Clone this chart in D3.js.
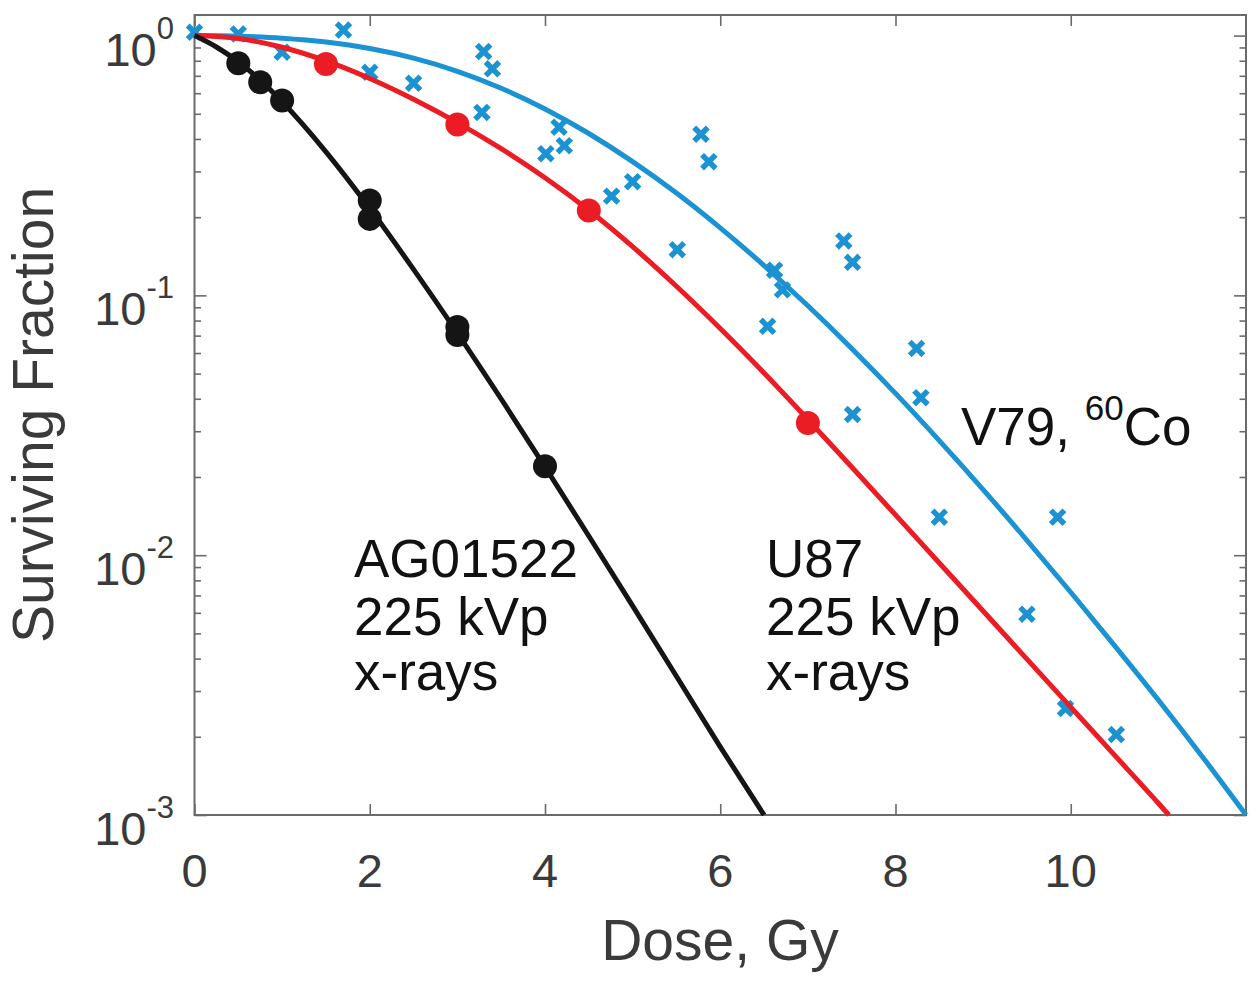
<!DOCTYPE html>
<html>
<head>
<meta charset="utf-8">
<script src="https://cdn.jsdelivr.net/npm/d3@7"></script>
<style>
  html, body { margin: 0; padding: 0; background: #fff; }
  svg { display: block; }
  text { font-family: "Liberation Sans", Arial, Helvetica, sans-serif; }
</style>
</head>
<body>
<svg id="chart" width="1260" height="983"></svg>
<script>
// ---------- data ----------
const xTicks = [0, 2, 4, 6, 8, 10];
const yMajorTicks = [1e-3, 1e-2, 1e-1, 1];
const yTickExponents = ["-3", "-2", "-1", "0"];

// AG01522, 225 kVp x-rays (measured)
const agDose = [0.5, 0.75, 1, 2, 2, 3, 3, 4];
const agSF   = [0.782, 0.661, 0.562, 0.232, 0.197, 0.0756, 0.0704, 0.022];
// AG01522 fitted curve
const agFitDose = [0, 0.25, 0.5, 0.75, 1, 1.5, 2, 2.5, 3, 3.5, 4, 4.5, 5, 5.5, 6, 6.5];
const agFitSF   = [1, 0.9036, 0.7925, 0.6736, 0.5559, 0.3569, 0.2163, 0.1259, 0.07161, 0.03992, 0.02188, 0.01185, 0.00638, 0.00342, 0.00183, 0.001];

// U87, 225 kVp x-rays (measured)
const u87Dose = [1.5, 3, 4.5, 7];
const u87SF   = [0.778, 0.455, 0.212, 0.0323];
// U87 fitted curve
const u87FitDose = [0, 0.5, 1, 1.5, 2, 2.5, 3, 3.5, 4, 4.5, 5, 5.5, 6, 6.5, 7, 7.5, 8, 8.5, 9, 9.5, 10, 10.5, 11, 11.12];
const u87FitSF   = [1, 0.9744, 0.9016, 0.7989, 0.6839, 0.5689, 0.4624, 0.3668, 0.2835, 0.2126, 0.1540, 0.1084, 0.07456, 0.05026, 0.03330, 0.02185, 0.01429, 0.00933, 0.00610, 0.00398, 0.00260, 0.00170, 0.00111, 0.001];

// V79, 60Co (measured)
const v79Dose = [0, 0.5, 1.0, 1.7, 2.0, 2.5, 3.3, 3.4, 3.28, 4.16, 4.22, 4.01, 5.0, 4.76, 5.51, 5.78, 5.87, 6.62, 6.71, 6.54, 7.41, 7.51, 7.51, 8.24, 8.29, 8.50, 9.85, 9.50, 9.94, 10.52];
const v79SF   = [1.03, 1.015, 0.863, 1.05, 0.722, 0.656, 0.868, 0.745, 0.506, 0.444, 0.377, 0.351, 0.274, 0.241, 0.150, 0.417, 0.327, 0.125, 0.105, 0.076, 0.162, 0.134, 0.0348, 0.0625, 0.0404, 0.0140, 0.0140, 0.00593, 0.00257, 0.00204];
// V79 fitted curve
const v79FitDose = [0, 0.5, 1, 1.5, 2, 2.5, 3, 3.5, 4, 4.5, 5, 5.5, 6, 6.5, 7, 7.5, 8, 8.5, 9, 9.5, 10, 10.5, 11, 11.5, 12];
const v79FitSF   = [1, 0.9943, 0.9772, 0.9441, 0.8913, 0.8186, 0.7288, 0.6271, 0.5218, 0.4199, 0.3273, 0.2477, 0.1820, 0.1303, 0.0912, 0.0625, 0.04195, 0.02761, 0.01789, 0.01141, 0.00720, 0.00449, 0.00277, 0.00168, 0.001];

// ---------- layout ----------
const L = 194.5, R = 1246, T = 15, B = 815;
const svg = d3.select("#chart");
const x = d3.scaleLinear().domain([0, 12]).range([L, R]);
const y = d3.scaleLog().domain([1e-3, 1.2]).range([B, T]);

const blue = "#1b92d1", red = "#ec1c24", black = "#151515";
const axisColor = "#6a6a6a", labelColor = "#3a3a3a";

// minor ticks
const yMinor = [];
yMajorTicks.slice(0, 3).forEach(d => { for (let k = 2; k <= 9; k++) yMinor.push(d * k); });

function styleAxis(g) {
  g.select(".domain").remove();
  g.selectAll(".tick line").attr("stroke", axisColor).attr("stroke-width", 1.6);
  g.selectAll(".tick text").remove();
}

svg.append("g").attr("transform", `translate(0,${B})`)
  .call(d3.axisBottom(x).tickValues(xTicks).tickSize(-11)).call(styleAxis);
svg.append("g").attr("transform", `translate(0,${T})`)
  .call(d3.axisTop(x).tickValues(xTicks).tickSize(-11)).call(styleAxis);
svg.append("g").attr("transform", `translate(${L},0)`)
  .call(d3.axisLeft(y).tickValues(yMajorTicks).tickSize(-12)).call(styleAxis);
svg.append("g").attr("transform", `translate(${L},0)`)
  .call(d3.axisLeft(y).tickValues(yMinor).tickSize(-6.5)).call(styleAxis);
svg.append("g").attr("transform", `translate(${R},0)`)
  .call(d3.axisRight(y).tickValues(yMajorTicks).tickSize(-12)).call(styleAxis);
svg.append("g").attr("transform", `translate(${R},0)`)
  .call(d3.axisRight(y).tickValues(yMinor).tickSize(-6.5)).call(styleAxis);

svg.append("rect").attr("x", L).attr("y", T).attr("width", R - L).attr("height", B - T)
  .attr("fill", "none").attr("stroke", axisColor).attr("stroke-width", 2);

// tick labels
svg.append("g").selectAll("text").data(xTicks).join("text")
  .attr("x", d => x(d)).attr("y", 887).attr("text-anchor", "middle")
  .attr("font-size", 47).attr("fill", labelColor).text(d => d);

const yl = svg.append("g").selectAll("text").data(yMajorTicks).join("text")
  .attr("x", 174).attr("y", d => y(d) + 30).attr("text-anchor", "end")
  .attr("fill", labelColor);
yl.append("tspan").attr("font-size", 47).text("10");
yl.append("tspan").attr("font-size", 31).attr("dy", -27).text((d, i) => yTickExponents[i]);

// axis titles
svg.append("text").attr("x", 720).attr("y", 960).attr("text-anchor", "middle")
  .attr("font-size", 57).attr("fill", labelColor).text("Dose, Gy");
svg.append("text").attr("transform", "translate(53,415) rotate(-90)").attr("text-anchor", "middle")
  .attr("font-size", 57).attr("fill", labelColor).text("Surviving Fraction");

// ---------- data marks ----------
const line = d3.line().x(d => x(d[0])).y(d => y(d[1])).curve(d3.curveMonotoneX);
const zip = (a, b) => a.map((v, i) => [v, b[i]]);

// V79 crosses
const cs = 6.8;
svg.append("g").selectAll("path").data(zip(v79Dose, v79SF)).join("path")
  .attr("d", d => {
    const cx = x(d[0]), cy = y(d[1]);
    return `M${cx - cs},${cy - cs}L${cx + cs},${cy + cs}M${cx - cs},${cy + cs}L${cx + cs},${cy - cs}`;
  })
  .attr("stroke", blue).attr("stroke-width", 5.5).attr("fill", "none");

svg.append("path").datum(zip(v79FitDose, v79FitSF)).attr("d", line)
  .attr("fill", "none").attr("stroke", blue).attr("stroke-width", 5);

svg.append("path").datum(zip(u87FitDose, u87FitSF)).attr("d", line)
  .attr("fill", "none").attr("stroke", red).attr("stroke-width", 5);
svg.append("g").selectAll("circle").data(zip(u87Dose, u87SF)).join("circle")
  .attr("cx", d => x(d[0])).attr("cy", d => y(d[1])).attr("r", 12).attr("fill", red);

svg.append("path").datum(zip(agFitDose, agFitSF)).attr("d", line)
  .attr("fill", "none").attr("stroke", black).attr("stroke-width", 5);
svg.append("g").selectAll("circle").data(zip(agDose, agSF)).join("circle")
  .attr("cx", d => x(d[0])).attr("cy", d => y(d[1])).attr("r", 12).attr("fill", black);

// ---------- annotations ----------
const annFont = 53;
function block(x0, lines) {
  lines.forEach((t, i) => {
    svg.append("text").attr("x", x0).attr("y", [577, 635, 690][i])
      .attr("font-size", annFont).attr("fill", "#111").text(t);
  });
}
block(354, ["AG01522", "225 kVp", "x-rays"]);
block(766, ["U87", "225 kVp", "x-rays"]);

const v = svg.append("text").attr("x", 961).attr("y", 445).attr("font-size", annFont).attr("fill", "#111");
v.append("tspan").text("V79, ");
v.append("tspan").attr("font-size", 35).attr("dy", -25).text("60");
v.append("tspan").attr("dy", 25).text("Co");
</script>
</body>
</html>
